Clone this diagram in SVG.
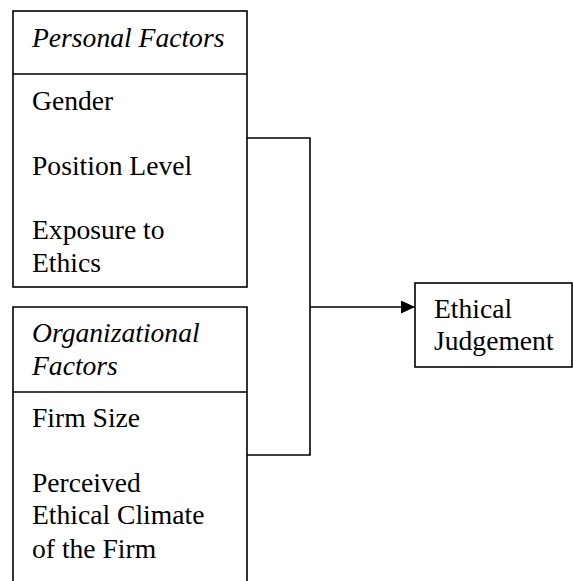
<svg xmlns="http://www.w3.org/2000/svg" width="573" height="581" viewBox="0 0 573 581">
<style>
.box{fill:#fff;stroke:#000;stroke-width:1.6}
.ln{fill:none;stroke:#000;stroke-width:1.6}
.t{font-size:27.6px;fill:#000}
.it{font-style:italic}
</style>
<defs>
<marker id="arr" markerWidth="14" markerHeight="13" refX="14" refY="6.5" orient="auto" markerUnits="userSpaceOnUse">
<path d="M0,0 L14,6.5 L0,13 Z" fill="#000"/>
</marker>
</defs>
<g id="connectors">
<path class="ln" d="M247,138 H310 V455 H247"/>
<path class="ln" d="M310,307 H415" marker-end="url(#arr)"/>
</g>
<g font-family="'Liberation Serif', 'DejaVu Serif', serif">
<g id="personal">
<rect class="box" x="13" y="11" width="234" height="276"/>
<line class="ln" x1="13" y1="74" x2="247" y2="74"/>
<text class="t it" x="32" y="47">Personal Factors</text>
<text class="t" x="32" y="110">Gender</text>
<text class="t" x="32" y="175">Position Level</text>
<text class="t" x="32" y="239">Exposure to</text>
<text class="t" x="32" y="272">Ethics</text>
</g>
<g id="organizational">
<path class="box" d="M13,590 V307 H247 V590"/>
<line class="ln" x1="13" y1="392" x2="247" y2="392"/>
<text class="t it" x="32" y="342">Organizational</text>
<text class="t it" x="32" y="375">Factors</text>
<text class="t" x="32" y="427">Firm Size</text>
<text class="t" x="32" y="492">Perceived</text>
<text class="t" x="32" y="524">Ethical Climate</text>
<text class="t" x="32" y="558">of the Firm</text>
</g>
<g id="judgement">
<rect class="box" x="415" y="283" width="157" height="84"/>
<text class="t" x="434" y="318">Ethical</text>
<text class="t" x="434" y="350">Judgement</text>
</g>
</g>
</svg>
